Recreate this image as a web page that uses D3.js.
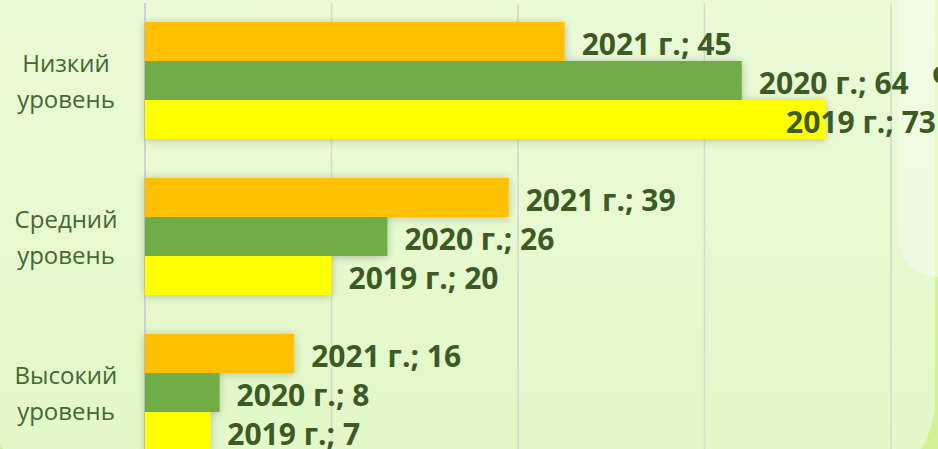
<!DOCTYPE html>
<html>
<head>
<meta charset="utf-8">
<script src="https://cdn.jsdelivr.net/npm/d3@7"></script>
<style>
  html, body { margin: 0; padding: 0; background: #d2f296; overflow: hidden; }
  svg { display: block; }
</style>
</head>
<body>
<svg></svg>
<script>
const svg = d3.select('svg')
	.attr('width', 938)
	.attr('height', 449);

// data
const categories = ['Низкий уровень', 'Средний уровень', 'Высокий уровень'];
const seriesNames = ['2021 г.', '2020 г.', '2019 г.'];
const values2021 = [45, 39, 16];
const values2020 = [64, 26, 8];
const values2019 = [73, 20, 7];
const xTicks = [0, 20, 40, 60, 80];
const colors = ['#FFC000', '#70AD47', '#FFFF00'];

const seriesValues = [values2021, values2020, values2019];
const rows = categories.map((c, i) => ({
	category: c,
	bars: seriesNames.map((s, j) => ({ series: s, value: seriesValues[j][i], color: colors[j] }))
}));

// background
const defs = svg.append('defs');
const grad = defs.append('linearGradient')
	.attr('id', 'bg').attr('x1', 0).attr('y1', 0).attr('x2', 0).attr('y2', 1);
grad.append('stop').attr('offset', '0%').attr('stop-color', '#edfbdd');
grad.append('stop').attr('offset', '100%').attr('stop-color', '#e2f8c7');

defs.append('filter')
	.attr('id', 'shadow')
	.attr('x', '-10%').attr('y', '-30%').attr('width', '120%').attr('height', '160%')
	.append('feDropShadow')
	.attr('dx', 0).attr('dy', 1)
	.attr('stdDeviation', 4)
	.attr('flood-color', '#000')
	.attr('flood-opacity', 0.24);

svg.append('rect')
	.attr('x', -10.5).attr('y', -200)
	.attr('width', 945.5).attr('height', 693)
	.attr('rx', 93)
	.attr('fill', 'url(#bg)');

svg.append('rect')
	.attr('x', 898).attr('y', -60)
	.attr('width', 100).attr('height', 337)
	.attr('rx', 40)
	.attr('fill', '#f6fdee')
	.attr('opacity', 0.55);

// scales
const xScale = d3.scaleLinear()
	.domain([0, 80])
	.range([145, 891]);

const yScale = d3.scaleBand()
	.domain(categories)
	.range([2.5, 470.5])
	.paddingInner(0.25)
	.paddingOuter(0.125);

const ySub = d3.scaleBand()
	.domain(seriesNames)
	.range([0, yScale.bandwidth()]);

// gridlines
svg.append('g')
	.selectAll('line')
	.data(xTicks.slice(1))
	.join('line')
	.attr('x1', d => xScale(d)).attr('x2', d => xScale(d))
	.attr('y1', 3).attr('y2', 449)
	.attr('stroke', '#d6dad0')
	.attr('stroke-width', 1.6);

svg.append('line')
	.attr('x1', xScale(0)).attr('x2', xScale(0))
	.attr('y1', 3).attr('y2', 449)
	.attr('stroke', '#cbc7d3')
	.attr('stroke-width', 1.6);

// bars
const groups = svg.append('g')
	.selectAll('g')
	.data(rows)
	.join('g')
	.attr('transform', d => `translate(0, ${yScale(d.category)})`);

groups.append('g')
	.attr('filter', 'url(#shadow)')
	.selectAll('rect')
	.data(d => d.bars)
	.join('rect')
	.attr('x', xScale(0))
	.attr('y', d => ySub(d.series))
	.attr('width', d => xScale(d.value) - xScale(0))
	.attr('height', ySub.bandwidth())
	.attr('fill', d => d.color);

// data labels
const rightLimit = 936;
groups.selectAll('text.val')
	.data(d => d.bars)
	.join('text')
	.attr('class', 'val')
	.attr('y', d => ySub(d.series) + ySub.bandwidth() / 2 + 13)
	.attr('font-family', '"Open Sans", sans-serif')
	.attr('font-weight', 'bold')
	.attr('font-size', 30)
	.attr('fill', '#3b5a24')
	.text(d => `${d.series}; ${d.value}`)
	.attr('x', function(d) {
		const w = this.getComputedTextLength();
		return Math.min(xScale(d.value) + 17, rightLimit - w);
	});

// category labels
const catLabels = groups.append('text')
	.attr('text-anchor', 'middle')
	.attr('font-family', '"Open Sans", sans-serif')
	.attr('font-size', 24)
	.attr('fill', '#446830');

catLabels.append('tspan')
	.attr('x', 66)
	.attr('y', yScale.bandwidth() / 2 - 8.5)
	.text(d => d.category.split(' ')[0]);

catLabels.append('tspan')
	.attr('x', 66)
	.attr('y', yScale.bandwidth() / 2 + 27.5)
	.text(d => d.category.split(' ')[1]);

// fragment of neighbouring text at the right edge
svg.append('text')
	.attr('x', 932)
	.attr('y', 83)
	.attr('font-family', '"Open Sans", sans-serif')
	.attr('font-weight', 'bold')
	.attr('font-size', 30)
	.attr('fill', '#3b5a24')
	.text('с');
</script>
</body>
</html>
